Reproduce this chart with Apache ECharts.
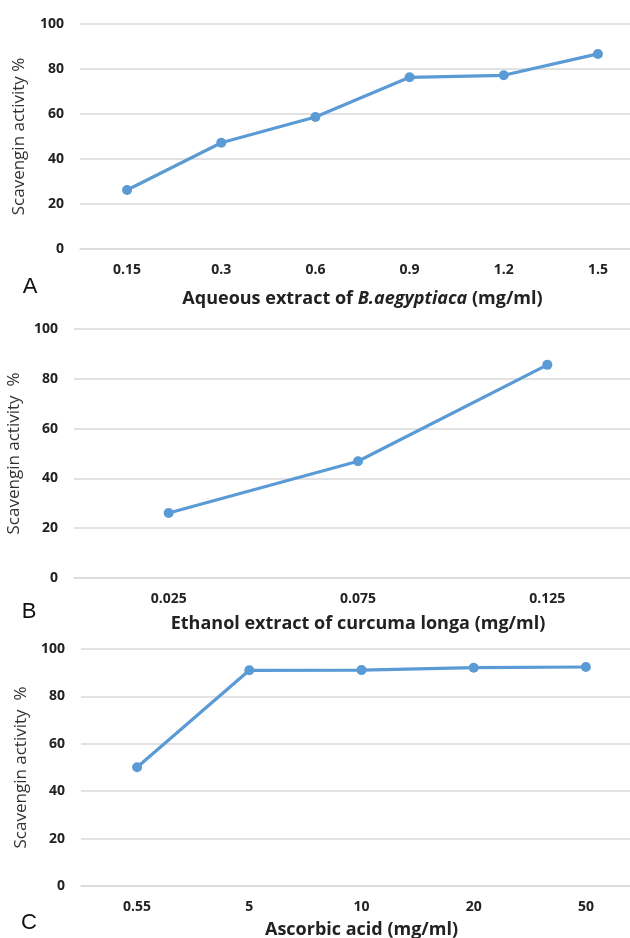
<!DOCTYPE html>
<html>
<head>
<meta charset="utf-8">
<script src="https://cdn.jsdelivr.net/npm/echarts@6/dist/echarts.min.js"></script>
<style>
  html, body { margin: 0; padding: 0; background: #fff; }
  #chart { width: 630px; height: 938px; }
</style>
</head>
<body>
<div id="chart"></div>
<script>
// panel A - aqueous extract
var catsA = ['0.15', '0.3', '0.6', '0.9', '1.2', '1.5'];
var valsA = [26.2, 47.2, 58.7, 76.3, 77.2, 86.7];
// panel B - ethanol extract
var catsB = ['0.025', '0.075', '0.125'];
var valsB = [26.1, 46.9, 85.6];
// panel C - ascorbic acid
var catsC = ['0.55', '5', '10', '20', '50'];
var valsC = [50.1, 91.0, 91.1, 92.1, 92.4];

var blue = '#5B9BD5';
var font = 'Open Sans';

function yAx(idx, name, gap) {
  return {
    gridIndex: idx,
    type: 'value',
    min: 0, max: 100, interval: 20,
    name: name,
    nameLocation: 'middle',
    nameGap: gap,
    nameTextStyle: { fontFamily: font, fontSize: 17, color: '#333' },
    axisLine: { show: false },
    axisTick: { show: false },
    axisLabel: { margin: 16, fontFamily: font, fontSize: 14, fontWeight: 'bold', color: '#222' },
    splitLine: { lineStyle: { color: '#d9d9d9', width: 1.5 } }
  };
}

function xAx(idx, cats, name, gap) {
  return {
    gridIndex: idx,
    type: 'category',
    data: cats,
    name: name,
    nameLocation: 'middle',
    nameGap: gap,
    nameTextStyle: {
      fontFamily: font, fontSize: 18, fontWeight: 'bold', color: '#222',
      rich: { i: { fontFamily: font, fontSize: 18, fontWeight: 'bold', fontStyle: 'italic', color: '#222' } }
    },
    axisLine: { lineStyle: { color: '#d9d9d9', width: 1.5 } },
    axisTick: { show: false },
    axisLabel: { margin: 14, fontFamily: font, fontSize: 14, fontWeight: 'bold', color: '#222' }
  };
}

function line(idx, vals) {
  return {
    type: 'line',
    xAxisIndex: idx,
    yAxisIndex: idx,
    data: vals,
    symbol: 'circle',
    symbolSize: 10,
    lineStyle: { color: blue, width: 3.2 },
    itemStyle: { color: blue }
  };
}

var option = {
  animation: false,
  grid: [
    { left: 80, top: 24, width: 565, height: 225, outerBoundsMode: 'none' },
    { left: 74, top: 329, width: 568, height: 249, outerBoundsMode: 'none' },
    { left: 81, top: 649, width: 561, height: 237, outerBoundsMode: 'none' }
  ],
  xAxis: [
    xAx(0, catsA, 'Aqueous extract of {i|B.aegyptiaca} (mg/ml)', 41),
    xAx(1, catsB, 'Ethanol extract of curcuma longa (mg/ml)', 37),
    xAx(2, catsC, 'Ascorbic acid (mg/ml)', 35)
  ],
  yAxis: [
    yAx(0, 'Scavengin activity %', 52),
    yAx(1, 'Scavengin activity  %', 47),
    yAx(2, 'Scavengin activity  %', 46)
  ],
  series: [line(0, valsA), line(1, valsB), line(2, valsC)],
  graphic: [
    { type: 'text', x: 30, y: 287, style: { text: 'A', fontFamily: 'Liberation Sans', fontSize: 22, fill: '#111', align: 'center', verticalAlign: 'middle' } },
    { type: 'text', x: 29, y: 612, style: { text: 'B', fontFamily: 'Liberation Sans', fontSize: 22, fill: '#111', align: 'center', verticalAlign: 'middle' } },
    { type: 'text', x: 29, y: 923, style: { text: 'C', fontFamily: 'Liberation Sans', fontSize: 22, fill: '#111', align: 'center', verticalAlign: 'middle' } }
  ]
};

var chart = echarts.init(document.getElementById('chart'));
chart.setOption(option);
</script>
</body>
</html>
